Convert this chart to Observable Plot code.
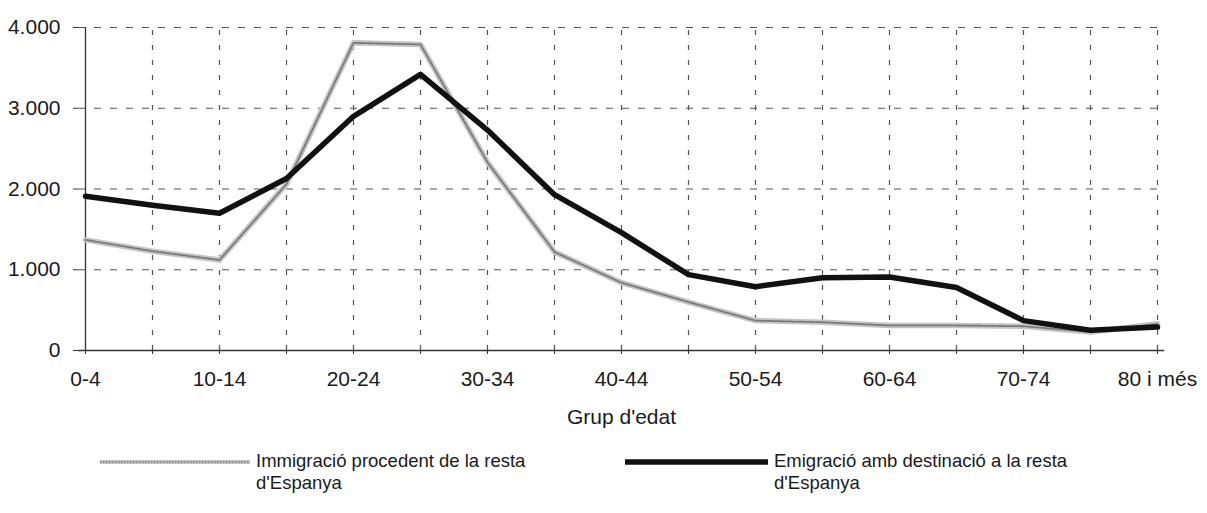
<!DOCTYPE html>
<html>
<head>
<meta charset="utf-8">
<script src="https://cdn.jsdelivr.net/npm/d3@7"></script>
<script src="https://cdn.jsdelivr.net/npm/@observablehq/plot@0.6"></script>
<style>
  html, body { margin: 0; padding: 0; background: #fff; }
  #wrap { position: relative; width: 1207px; height: 513px; font-family: "Liberation Sans", Arial, sans-serif; color: #1a1a1a; }
  .leg { position: absolute; top: 450px; display: flex; align-items: flex-start; font-size: 18.5px; line-height: 22px; }
  .leg svg { margin-top: 2px; margin-right: 6px; }
</style>
</head>
<body>
<div id="wrap"></div>
<script>
const groups = ["0-4","5-9","10-14","15-19","20-24","25-29","30-34","35-39","40-44","45-49","50-54","55-59","60-64","65-69","70-74","75-79","80 i més"];
const immigracio = [1370, 1230, 1120, 2060, 3810, 3790, 2330, 1220, 840, 600, 370, 350, 310, 310, 300, 230, 330];
const emigracio = [1910, 1800, 1700, 2130, 2900, 3420, 2730, 1930, 1460, 940, 790, 900, 910, 780, 370, 250, 290];
const yTicks = [0, 1000, 2000, 3000, 4000];
const labelGroups = groups.filter((d, i) => i % 2 === 0);
const seriesNames = ["Immigració procedent de la resta d'Espanya", "Emigració amb destinació a la resta d'Espanya"];

const immData = groups.map((g, i) => ({group: g, value: immigracio[i]}));
const emiData = groups.map((g, i) => ({group: g, value: emigracio[i]}));

const fmt = d3.formatLocale({decimal: ",", thousands: ".", grouping: [3], currency: ["", ""]}).format(",");

const chart = Plot.plot({
  width: 1207,
  height: 430,
  marginLeft: 78,
  marginRight: 43,
  marginTop: 27,
  marginBottom: 80,
  style: {fontFamily: "Liberation Sans, Arial, sans-serif", fontSize: "21px", color: "#1a1a1a", background: "#fff"},
  x: {type: "point", domain: groups, padding: 0, range: [78, 1164]},
  y: {domain: [0, 4000]},
  marks: [
    Plot.ruleY(yTicks.filter(d => d > 0), {stroke: "#555", strokeWidth: 1.2, strokeDasharray: "7,9"}),
    Plot.ruleX(groups.slice(1), {stroke: "#555", strokeWidth: 1.2, strokeDasharray: "5,10", y1: 0, y2: 4000}),
    Plot.ruleX([groups[0]], {y1: 0, y2: 4000, stroke: "#333", strokeWidth: 1.3}),
    Plot.ruleY([0], {stroke: "#333", strokeWidth: 1.5}),
    Plot.axisY({ticks: yTicks, tickFormat: fmt, tickSize: 5, tickPadding: 13, label: null, fontSize: 21, stroke: "#333"}),
    Plot.axisX({ticks: groups, tickFormat: () => "", tickSize: 4, label: null, stroke: "#333"}),
    Plot.axisX({ticks: labelGroups, tickSize: 0, tickPadding: 21, fontSize: 21, label: "Grup d'edat", labelAnchor: "center", labelArrow: "none", labelOffset: 73}),
    Plot.line(immData, {x: "group", y: "value", stroke: "#c4c4c4", strokeWidth: 5.5}),
    Plot.line(immData, {x: "group", y: "value", stroke: "#777", strokeWidth: 1.8, strokeDasharray: "1.5,1.5"}),
    Plot.line(emiData, {x: "group", y: "value", stroke: "#111", strokeWidth: 5.5, strokeLinejoin: "round"})
  ]
});

const wrap = document.getElementById("wrap");
wrap.appendChild(chart);

function legendItem(left, w, name, kind) {
  const div = document.createElement("div");
  div.className = "leg";
  div.style.left = left + "px";
  const svg = d3.create("svg").attr("width", w).attr("height", 20);
  if (kind === "imm") {
    svg.append("line").attr("x1", 0).attr("x2", w).attr("y1", 10).attr("y2", 10).attr("stroke", "#c4c4c4").attr("stroke-width", 4);
    svg.append("line").attr("x1", 0).attr("x2", w).attr("y1", 10).attr("y2", 10).attr("stroke", "#777").attr("stroke-width", 1.6).attr("stroke-dasharray", "1.5,1.5");
  } else {
    svg.append("line").attr("x1", 0).attr("x2", w).attr("y1", 10).attr("y2", 10).attr("stroke", "#111").attr("stroke-width", 5.5);
  }
  div.appendChild(svg.node());
  const t = document.createElement("div");
  const idx = name.indexOf(" d'Espanya");
  t.innerHTML = name.slice(0, idx) + "<br>" + name.slice(idx + 1);
  div.appendChild(t);
  wrap.appendChild(div);
}
legendItem(100, 150, seriesNames[0], "imm");
legendItem(625, 143, seriesNames[1], "emi");
</script>
</body>
</html>
